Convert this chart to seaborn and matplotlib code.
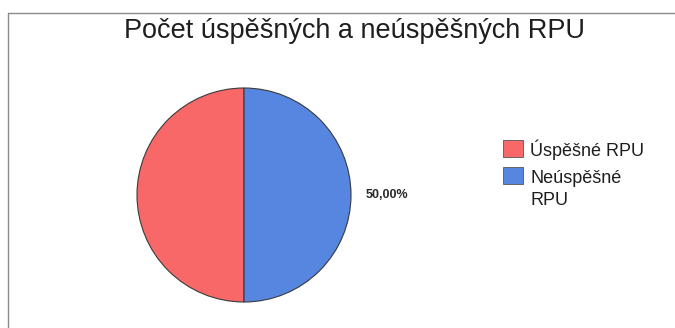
import matplotlib
matplotlib.use("Agg")
import matplotlib.pyplot as plt
from matplotlib.patches import Rectangle
from matplotlib.lines import Line2D
import seaborn as sns

categories = ["Úspěšné RPU", "Neúspěšné\nRPU"]
counts = [1, 1]
colors = ["#F96868", "#5686DF"]
title = "Počet úspěšných a neúspěšných RPU"

sns.set_theme(style="white")
plt.rcParams["font.family"] = ["Liberation Sans", "DejaVu Sans"]

W, H = 675, 328
fig = plt.figure(figsize=(W / 100, H / 100), dpi=100)
fig.patch.set_facecolor("white")


def fx(px):
    return px / W


def fy(py):
    return 1 - py / H


# chart frame (top and left edges)
fig.add_artist(Line2D([fx(8), 1.0], [fy(13), fy(13)], color="#8a8a8a", lw=1.0))
fig.add_artist(Line2D([fx(8), fx(8)], [0, fy(13)], color="#8a8a8a", lw=1.0))

# pie axes: centre (244, 195), radius 107 px
cx, cy, r = 244, 195, 107
ax = fig.add_axes([fx(cx - r), fy(cy + r), 2 * r / W, 2 * r / H])
wedges, _ = ax.pie(counts, colors=colors, startangle=90, counterclock=True,
                   wedgeprops=dict(edgecolor="#3a3a3a", linewidth=0.8))
ax.set_aspect("equal")
ax.set_xlim(-1, 1)
ax.set_ylim(-1, 1)
ax.axis("off")

# percentage label for the right-hand slice
total = sum(counts)
pct = counts[1] / total * 100
ax.text(1.34, 0.0, f"{pct:.2f}%".replace(".", ","), ha="center", va="center",
        fontsize=9, fontweight="bold", color="#2a2a2a", clip_on=False)

fig.text(fx(355), fy(31), title, ha="center", va="center",
         fontsize=19.5, color="#1e1e1e")

# legend: swatch aligned with the first line of each entry
row_top = [140, 167]
for label, color, top in zip(categories, colors, row_top):
    fig.add_artist(Rectangle((fx(503), fy(top + 17)), 20 / W, 17 / H,
                             facecolor=color, edgecolor="#555555", lw=0.6,
                             transform=fig.transFigure))
    for i, line in enumerate(label.split("\n")):
        fig.text(fx(530), fy(top + 16 + 22 * i), line, ha="left", va="baseline",
                 fontsize=13, color="#1e1e1e")

fig.savefig("out.png", dpi=100, facecolor="white")
